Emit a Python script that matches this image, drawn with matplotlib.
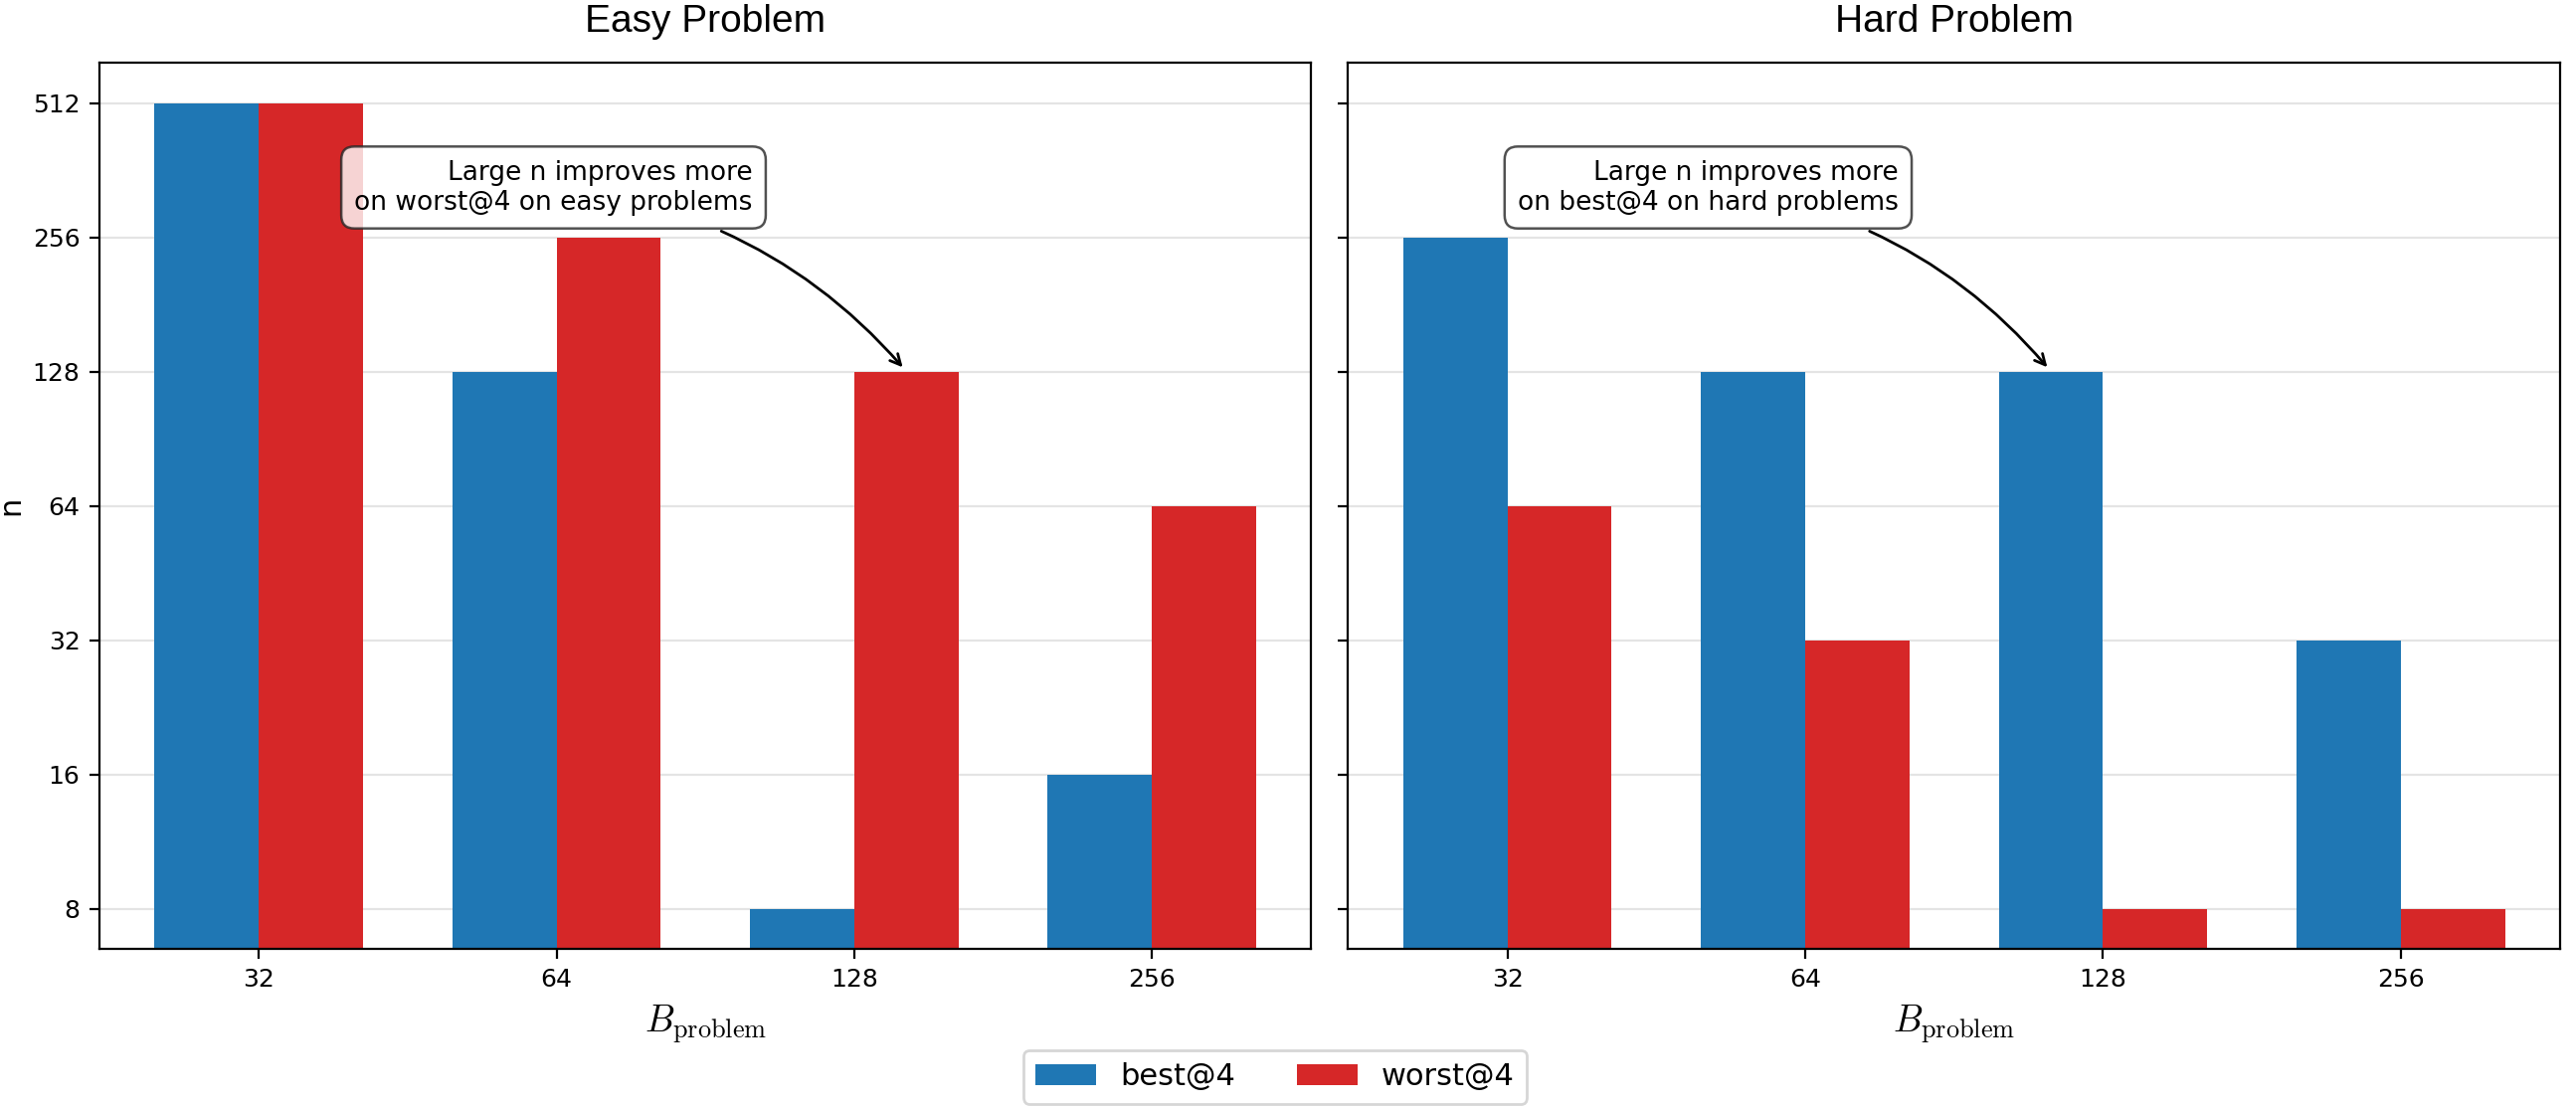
import matplotlib
matplotlib.use("Agg")
import matplotlib.pyplot as plt
import numpy as np
from matplotlib.ticker import NullLocator

plt.rcParams['mathtext.fontset'] = 'cm'

# budgets on the x axis
budgets = ['32', '64', '128', '256']
y_ticks = [8, 16, 32, 64, 128, 256, 512]

# easy problem
easy_best = [512, 128, 8, 16]
easy_worst = [512, 256, 128, 64]

# hard problem
hard_best = [256, 128, 128, 32]
hard_worst = [64, 32, 8, 8]

blue = '#1f77b4'
red = '#d62728'
width = 0.35

fig, axs = plt.subplots(1, 2, figsize=(12.95, 5.57), dpi=200, sharey=True)
fig.subplots_adjust(left=0.0386, right=0.9938, top=0.9434, bottom=0.1436, wspace=0.0304)

x = np.arange(len(budgets))

panels = [
    (axs[0], 'Easy Problem', easy_best, easy_worst,
     'Large n improves more\non worst@4 on easy problems', (x[2] + width / 2, 128), (0.99, 331)),
    (axs[1], 'Hard Problem', hard_best, hard_worst,
     'Large n improves more\non best@4 on hard problems', (x[2] - width / 2, 128), (0.674, 331)),
]

for ax, title, best, worst, note, xy, xytext in panels:
    ax.bar(x - width / 2, best, width, color=blue, label='best@4')
    ax.bar(x + width / 2, worst, width, color=red, label='worst@4')
    ax.set_yscale('log', base=2)
    ax.set_ylim(8 / 2 ** 0.3, 512 * 2 ** 0.3)
    ax.set_xlim(-0.535, 3.535)
    ax.set_yticks(y_ticks)
    ax.set_yticklabels([str(t) for t in y_ticks])
    ax.yaxis.set_minor_locator(NullLocator())
    ax.set_xticks(x)
    ax.set_xticklabels(budgets)
    ax.tick_params(labelsize=9)
    ax.set_axisbelow(True)
    ax.grid(axis='y', color='#e4e4e4', linewidth=0.8)
    ax.set_title(title, fontsize=14, family='Liberation Sans', pad=11)
    ax.set_xlabel(r'$B_{\mathrm{problem}}$', fontsize=13.5)
    ax.annotate(note, xy=xy, xytext=xytext, ha='center', va='center',
                multialignment='right', fontsize=9.5,
                bbox=dict(boxstyle='round,pad=0.5', fc='white', ec='0.15', alpha=0.8, lw=0.9),
                arrowprops=dict(arrowstyle='->', color='black', lw=1.0,
                                connectionstyle='arc3,rad=-0.2'))

axs[0].set_ylabel('n', fontsize=11, labelpad=2.5)
plt.setp(axs[1].get_yticklabels(), visible=False)

handles, labels = axs[0].get_legend_handles_labels()
fig.legend(handles, labels, loc='lower center', ncol=2, fontsize=11,
           bbox_to_anchor=(0.495, 0.004), borderaxespad=0)

fig.savefig('out.png', dpi=200)
